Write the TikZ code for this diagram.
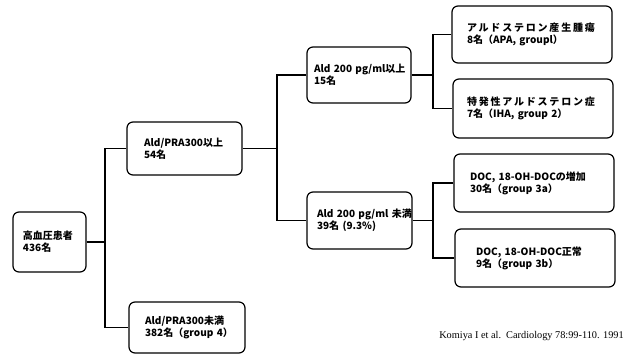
\documentclass[tikz,border=0pt]{standalone}
\usepackage{fontspec}
\setmainfont{Noto Sans CJK JP}
\newfontfamily\citefont{Liberation Serif}
\newfontfamily\spacedfont[LetterSpace=18]{Noto Sans CJK JP}
\begin{document}
\begin{tikzpicture}[x=1pt,y=-1pt,
  box/.style={draw, rounded corners=6pt, line width=1.2pt, align=left,
    font=\fontsize{10}{12}\selectfont\bfseries, inner ysep=0pt},
  conn/.style={line width=1.2pt}]
\useasboundingbox (0,0) rectangle (642,356);
\node[box, minimum height=60pt, text width=53pt, inner xsep=10pt] (b1) at (49.5,242) {高血圧患者\\436名};
\node[box, minimum height=53pt, text width=81pt, inner xsep=17pt] (b2) at (184.5,148.5) {Ald/PRA300以上\\54名};
\node[box, minimum height=51pt, text width=84pt, inner xsep=16pt] (b3) at (187,327.5) {Ald/PRA300未満\\382名（group~4）};
\node[box, minimum height=56pt, text width=90pt, inner xsep=7pt] (b4) at (359,75) {Ald~200~pg/ml以上\\15名};
\node[box, minimum height=57pt, text width=85pt, inner xsep=10pt] (b5) at (359.5,220.5) {Ald~200~pg/ml~未満\\39名~(9.3\%)};
\node[box, minimum height=57pt, text width=130pt, inner xsep=15pt] (b6) at (532,34.5) {{\spacedfont\bfseries アルドステロン産生腫瘍}\\8名（APA,~groupl）};
\node[box, minimum height=59pt, text width=132pt, inner xsep=14pt] (b7) at (533,108.5) {{\spacedfont\bfseries 特発性アルドステロン症}\\7名（IHA,~group~2）};
\node[box, minimum height=58pt, text width=128pt, inner xsep=16pt] (b8) at (534,183) {DOC,~18-OH-DOCの増加\\30名（group~3a）};
\node[box, minimum height=58pt, text width=118pt, inner xsep=21pt] (b9) at (535,258) {DOC,~18-OH-DOC正常\\9名（group~3b）};
\node[font=\citefont\fontsize{10.3}{12}\selectfont, inner sep=0pt] (cite) at (531.5,336) {Komiya I et al.\ \ Cardiology 78:99-110. 1991};
\coordinate (j1) at (105,240);
\coordinate (j2) at (277,148);
\coordinate (j3) at (433,75);
\coordinate (j4) at (433,222);
\draw[conn] (b1.east) -- (b1.east -| j1);
\draw[conn] (b2.west) -| (j1) |- (b3.west);
\draw[conn] (b2.east) -- (b2.east -| j2);
\draw[conn] (b4.west) -| (j2) |- (b5.west);
\draw[conn] (b4.east) -- (b4.east -| j3);
\draw[conn] (b6.west) -| (j3) |- (b7.west);
\draw[conn] (b5.east) -- (b5.east -| j4);
\draw[conn] (b8.west) -| (j4) |- (b9.west);
\end{tikzpicture}
\end{document}
